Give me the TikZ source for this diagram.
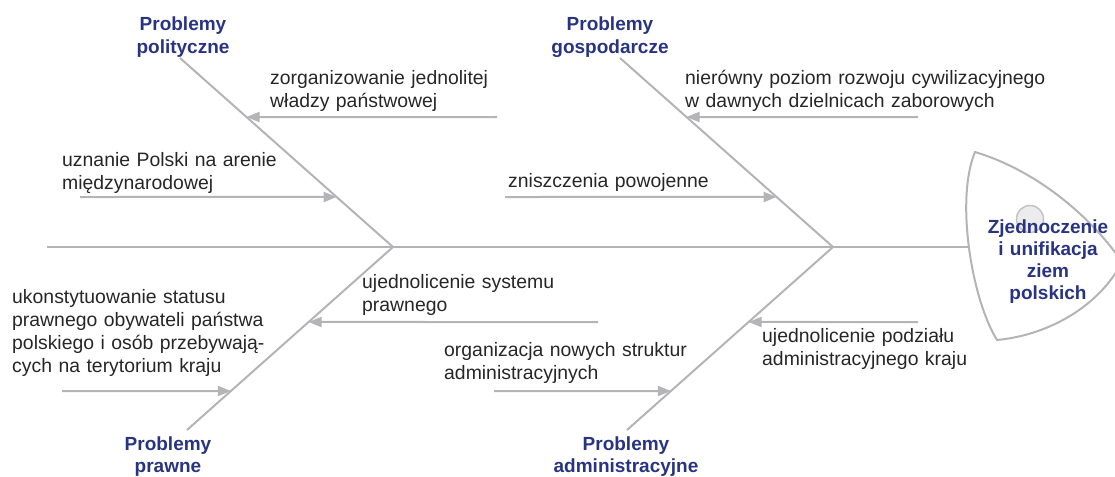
\documentclass[tikz,border=0pt]{standalone}
\usepackage{fontspec}
\setmainfont{Liberation Sans}
\usetikzlibrary{arrows.meta,calc}
\definecolor{bonec}{RGB}{180,180,183}
\definecolor{navyc}{RGB}{40,52,130}
\definecolor{txtc}{RGB}{38,38,38}
\definecolor{eyec}{RGB}{236,236,238}
\begin{document}
\begin{tikzpicture}[x=1pt,y=-1pt,
  bonel/.style={draw=bonec,line width=2pt},
  arr/.style={draw=bonec,line width=2pt,-{Triangle[length=13pt,width=10pt]}},
  lbl/.style={text=txtc,font=\fontsize{19.4}{23}\selectfont,inner sep=0pt,anchor=base west,text width=420pt,align=left},
  ttl/.style={text=navyc,font=\fontsize{19}{22.5}\selectfont\bfseries,inner sep=0pt,anchor=base,text width=220pt,align=center},
  headttl/.style={text=navyc,font=\fontsize{19}{22}\selectfont\bfseries,inner sep=0pt,anchor=base,text width=160pt,align=center}]
\useasboundingbox (0,0) rectangle (1115,476);
\clip (0,0) rectangle (1115,476);

% skeleton coordinates
\coordinate (J1) at (393,247);
\coordinate (J2) at (833,247);
\coordinate (A) at (180,58);
\coordinate (B) at (620,58);
\coordinate (C) at (187,430);
\coordinate (D) at (627,430);
\coordinate (tail) at (47,247);
\coordinate (spineend) at (1000,247);

% spine and bones
\draw[bonel] (tail) -- (spineend);
\draw[bonel] (A) -- (J1) -- (C);
\draw[bonel] (B) -- (J2) -- (D);

% head
\path[draw=bonec,line width=2pt,fill=white]
  (975,152) .. controls (1035,170) and (1090,215) .. (1122,262)
  .. controls (1100,305) and (1050,335) .. (997,340)
  .. controls (972,300) and (955,200) .. (975,152) -- cycle;
\node[circle,draw=bonec!80,fill=eyec,line width=1.5pt,minimum size=27pt,inner sep=0pt] (eye) at (1030,219) {};
\node[headttl] (head) at (1048,233) {Zjednoczenie\\i unifikacja\\ziem\\polskich};

% arrow tails
\coordinate (t1) at (497,117);
\coordinate (t2) at (80,197);
\coordinate (t3) at (918,117);
\coordinate (t4) at (505,197);
\coordinate (t5) at (598,322);
\coordinate (t6) at (62,391);
\coordinate (t7) at (494,391);
\coordinate (t8) at (918,322);
% arrow tips on the bones
\coordinate (p1) at ($(A)!0.3122!(J1)$);
\coordinate (p2) at ($(A)!0.7354!(J1)$);
\coordinate (p3) at ($(B)!0.3122!(J2)$);
\coordinate (p4) at ($(B)!0.7354!(J2)$);
\coordinate (p5) at ($(J1)!0.4098!(C)$);
\coordinate (p6) at ($(J1)!0.7869!(C)$);
\coordinate (p7) at ($(J2)!0.7869!(D)$);
\coordinate (p8) at ($(J2)!0.4098!(D)$);
\foreach \i in {1,...,8} {\draw[arr] (t\i) -- (p\i);}

% category titles
\node[ttl] (pol) at (183,31) {Problemy\\polityczne};
\node[ttl] (gos) at (610,31) {Problemy\\gospodarcze};
\node[ttl] (pra) at (168,450) {Problemy\\prawne};
\node[ttl] (adm) at (626,450) {Problemy\\administracyjne};

% cause labels
\node[lbl] (c1) at (270,85) {zorganizowanie jednolitej\\władzy państwowej};
\node[lbl] (c2) at (62,166) {uznanie Polski na arenie\\międzynarodowej};
\node[lbl] (c3) at (685,85) {nierówny poziom rozwoju cywilizacyjnego\\w dawnych dzielnicach zaborowych};
\node[lbl] (c4) at (508,187) {zniszczenia powojenne};
\node[lbl] (c5) at (362,288) {ujednolicenie systemu\\prawnego};
\node[lbl] (c6) at (12,303) {ukonstytuowanie statusu\\prawnego obywateli państwa\\polskiego i osób przebywają-\\cych na terytorium kraju};
\node[lbl] (c7) at (444,356) {organizacja nowych struktur\\administracyjnych};
\node[lbl] (c8) at (762,342) {ujednolicenie podziału\\administracyjnego kraju};
\end{tikzpicture}
\end{document}
